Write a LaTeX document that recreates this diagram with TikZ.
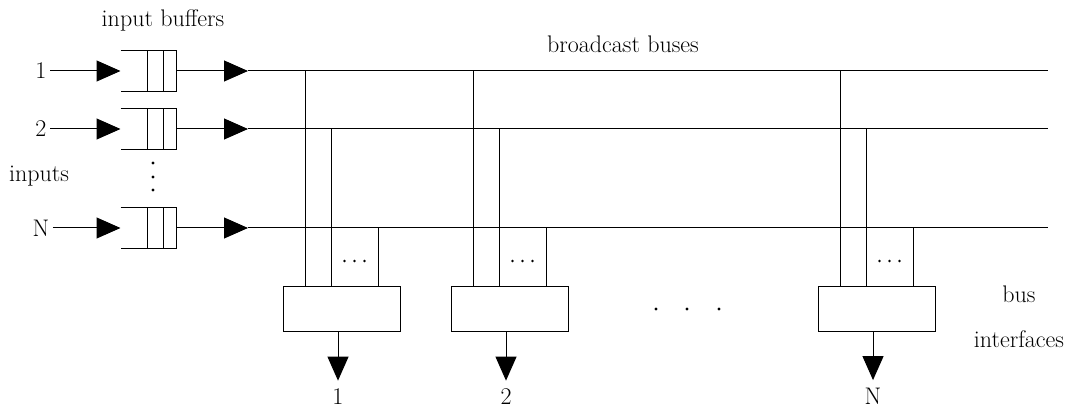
\documentclass[tikz,border=0pt]{standalone}
\usepackage{tikz}
\usetikzlibrary{arrows.meta,calc}

\begin{document}
\begin{tikzpicture}[x=1pt,y=-1pt,line width=1pt,
  font=\fontsize{24}{29}\selectfont,
  feed/.style={-{Triangle[length=24pt,width=21pt]}},
  buffer/.style={minimum width=55pt,minimum height=40pt,inner sep=0pt},
  iface/.style={draw,minimum width=117pt,minimum height=45pt,inner sep=0pt},
  lbl/.style={inner sep=3pt}]
  \useasboundingbox (0,0) rectangle (1075,411);

  % inputs, buffers and buses
  \foreach \r/\y in {1/71,2/129,N/228}{
    \node[lbl] (in\r) at (41,\y) {\r};
    \node[buffer] (buf\r) at (148.5,\y) {};
    \coordinate (tip\r) at (248,\y);
    \coordinate (end\r) at (1048,\y);
    \draw (buf\r.north west) -- (buf\r.north east) -- (buf\r.south east) -- (buf\r.south west);
    \draw ($(buf\r.north east)+(-13,0)$) -- ($(buf\r.south east)+(-13,0)$);
    \draw ($(buf\r.north east)+(-29,0)$) -- ($(buf\r.south east)+(-29,0)$);
    \draw[feed] (in\r) -- (buf\r.west);
    \draw[feed] (buf\r.east) -- (tip\r);
    \draw (tip\r) -- (end\r);
  }
  \node[anchor=base] (bufcap) at (163,27) {input buffers};
  \node[anchor=base] (incap) at (39,182) {inputs};
  \foreach \d in {163,177,190} \fill (153,\d) circle (1.6);
  \node[anchor=base] (buscap) at (623,53) {broadcast buses};

  % bus interfaces
  \foreach \k/\xl in {1/283,2/451,N/818}{
    \node[iface,anchor=north west] (if\k) at (\xl,286) {};
    \path (if\k.north west) ++(22,0) coordinate (ifa\k) ++(26,0) coordinate (ifb\k)
      ++(47,0) coordinate (ifc\k);
    \draw (ifa\k |- tip1) -- (ifa\k);
    \draw (ifb\k |- tip2) -- (ifb\k);
    \draw (ifc\k |- tipN) -- (ifc\k);
    \coordinate (more\k) at ($(ifb\k)!0.5!(ifc\k)+(0,-25)$);
    \foreach \dx in {-10,0,10} \fill ($(more\k)+(\dx,0)$) circle (1.3);
    \coordinate (ifo\k) at ($(if\k.south)+(-4,0)$);
    \node[lbl,anchor=base] (out\k) at ($(ifo\k)+(0,72)$) {\k};
    \draw[feed,shorten >=4pt] (ifo\k) -- (ifo\k |- out\k.north);
  }
  \foreach \d in {656,687,719} \fill (\d,309) circle (1.6);
  \node[align=center,font=\fontsize{24}{45}\selectfont] (ifcap) at (1019,317) {bus\\interfaces};
\end{tikzpicture}
\end{document}
